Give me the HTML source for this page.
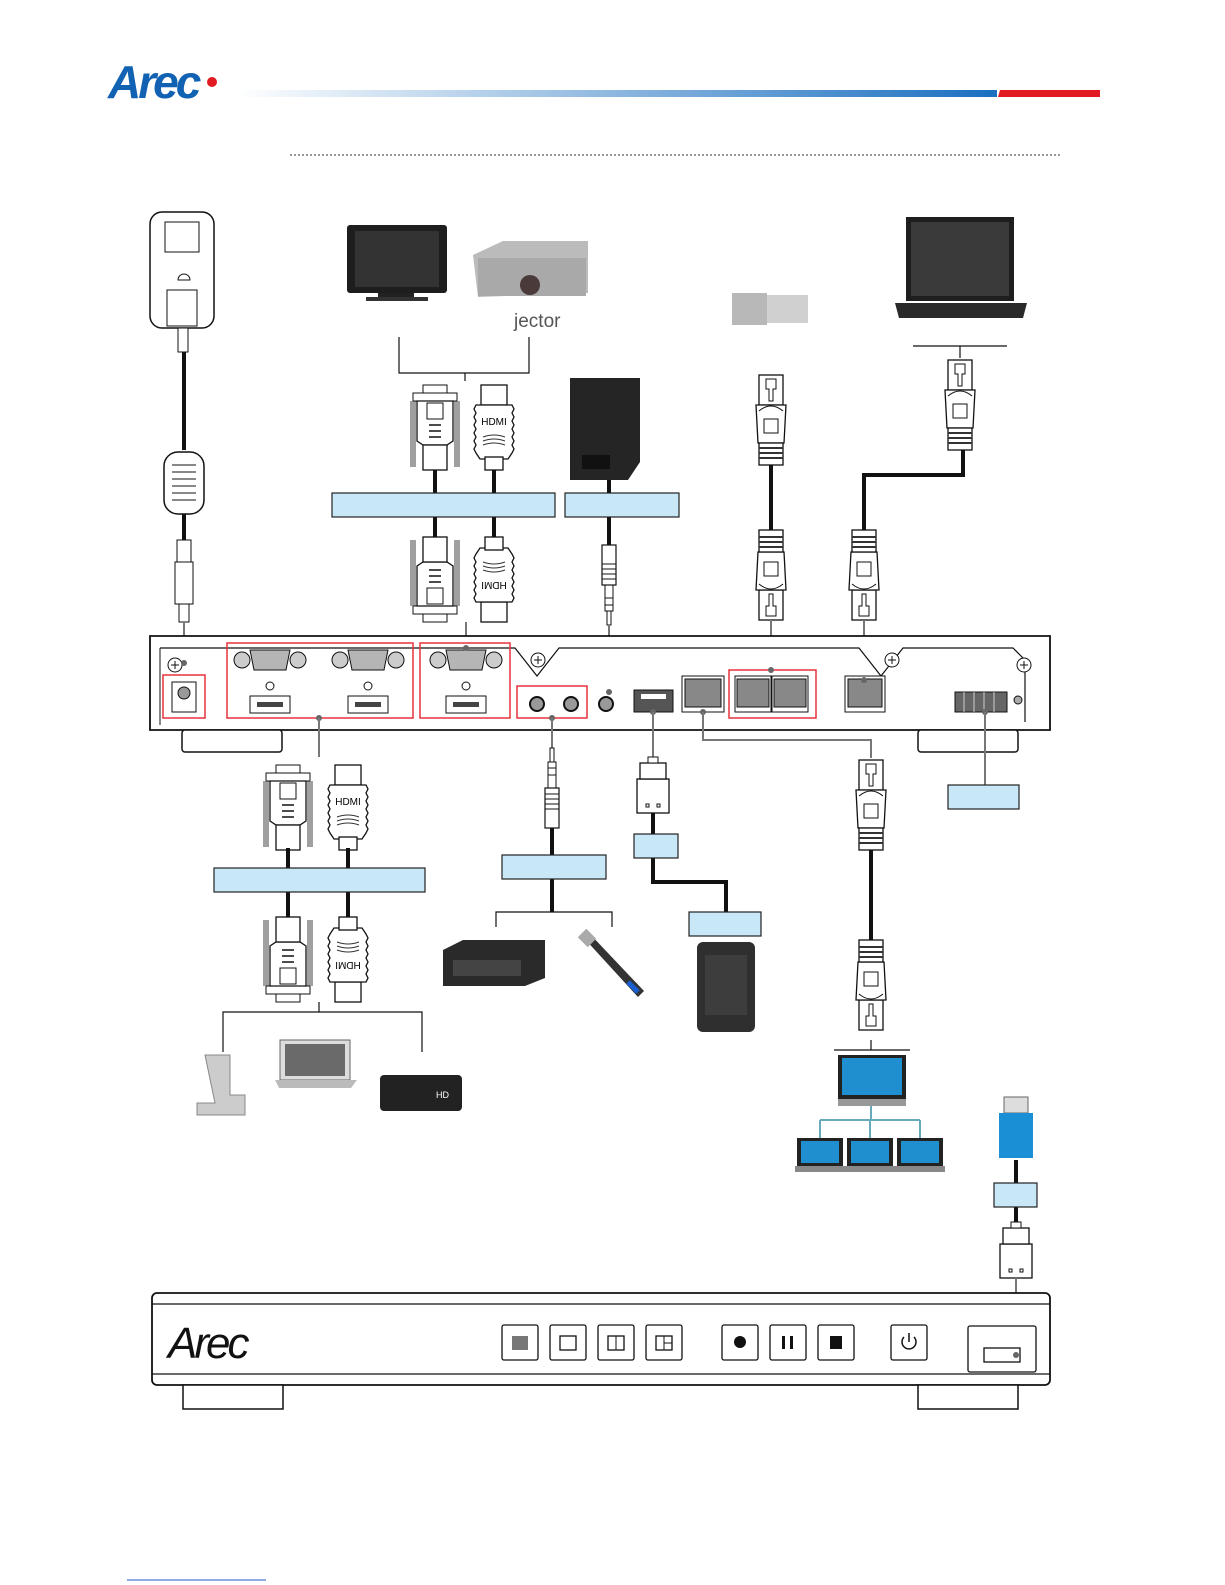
<!DOCTYPE html>
<html><head><meta charset="utf-8"><style>
html,body{margin:0;padding:0;background:#fff}
svg{display:block}
text{font-family:"Liberation Sans",sans-serif}
</style></head><body>
<svg width="1225" height="1585" viewBox="0 0 1225 1585" xmlns="http://www.w3.org/2000/svg">
<defs>
<linearGradient id="hg" x1="0" x2="1"><stop offset="0" stop-color="#fff"/><stop offset="1" stop-color="#1a6fc0"/></linearGradient>
<g id="rj">
 <rect x="-12" y="0" width="24" height="30" fill="#fff" stroke="#111" stroke-width="1.3"/>
 <path d="M-5 4h10v10h-3v12h-4v-12h-3z" fill="none" stroke="#111" stroke-width="1"/>
 <path d="M-15 30h30l-2 38h-26z" fill="#fff" stroke="#111" stroke-width="1.3"/>
 <rect x="-7" y="44" width="14" height="14" fill="none" stroke="#111"/>
 <path d="M-12 36q12-10 24 0" fill="none" stroke="#111"/>
 <rect x="-12" y="68" width="24" height="22" fill="#fff" stroke="#111" stroke-width="1.3"/>
 <path d="M-12 73h24M-12 78h24M-12 83h24" stroke="#333" stroke-width="2"/>
</g>
<g id="vga">
 <rect x="-12" y="0" width="24" height="8" fill="#fff" stroke="#111"/>
 <rect x="-22" y="8" width="44" height="8" fill="#fff" stroke="#111"/>
 <path d="M-18 16h36v40l-6 4h-24l-6-4z" fill="#fff" stroke="#111" stroke-width="1.3"/>
 <rect x="-8" y="18" width="16" height="16" fill="none" stroke="#111"/>
 <path d="M-6 40h12M-6 46h12M-6 52h12" stroke="#111" stroke-width="1.5"/>
 <path d="M-24 16v66M-20 16v66M20 16v66M24 16v66M-22 16v66M22 16v66" stroke="#111" stroke-width="0.8"/>
 <rect x="-12" y="60" width="24" height="25" fill="#fff" stroke="#111" stroke-width="1.3"/>
</g>
<g id="hd">
 <rect x="-13" y="0" width="26" height="20" fill="#fff" stroke="#111" stroke-width="1.3"/>
 <path d="M-18 20h36l2 4-2 4 2 4-2 4 2 4-2 4 2 4-2 4 2 4-2 4 2 4-2 4-4 6h-28l-4-6-2-4 2-4-2-4 2-4-2-4 2-4-2-4 2-4-2-4 2-4-2-4z" fill="#fff" stroke="#111" stroke-width="1.3"/>
 <path d="M-11 52q11-4 22 0M-11 56q11-4 22 0M-11 60q11-4 22 0" fill="none" stroke="#333"/>
 <rect x="-9" y="72" width="18" height="13" fill="#fff" stroke="#111" stroke-width="1.3"/>
</g>
<g id="usbp">
 <rect x="-16" y="0" width="32" height="34" fill="#fff" stroke="#111" stroke-width="1.3"/>
 <rect x="-7" y="6" width="3" height="3" fill="none" stroke="#111"/><rect x="4" y="6" width="3" height="3" fill="none" stroke="#111"/>
 <rect x="-13" y="34" width="26" height="16" fill="#fff" stroke="#111" stroke-width="1.3"/>
 <rect x="-5" y="50" width="10" height="6" fill="#fff" stroke="#111"/>
</g>
<g id="jack">
 <rect x="-2" y="0" width="4" height="14" fill="#fff" stroke="#111"/>
 <rect x="-4" y="14" width="8" height="26" fill="#fff" stroke="#111"/>
 <path d="M-4 20h8M-4 27h8" stroke="#111"/>
 <rect x="-7" y="40" width="14" height="40" fill="#fff" stroke="#111" stroke-width="1.2"/>
 <path d="M-7 46h14M-7 51h14M-7 56h14M-7 61h14" stroke="#111"/>
</g>
<g id="pc">
 <rect x="0" y="0" width="46" height="28" fill="#222"/><rect x="4" y="3" width="38" height="22" fill="#1f8fd0"/>
 <rect x="-2" y="28" width="50" height="6" fill="#888"/>
</g>
</defs>

<!-- header -->
<text x="108" y="98" font-size="46" font-style="italic" font-weight="bold" fill="#1262b3" letter-spacing="-3">Arec</text>
<circle cx="212" cy="82" r="5" fill="#e21b23"/>
<rect x="235" y="90" width="762" height="7" fill="url(#hg)"/>
<path d="M1000 90h100v7h-102z" fill="#e21b23"/>
<line x1="290" y1="155" x2="1060" y2="155" stroke="#333" stroke-dasharray="2 2"/>

<!-- power -->
<rect x="150" y="212" width="64" height="116" rx="12" fill="#fff" stroke="#111" stroke-width="1.5"/>
<rect x="165" y="222" width="34" height="30" fill="none" stroke="#111"/>
<rect x="167" y="290" width="30" height="36" fill="none" stroke="#111"/>
<path d="M178 280a6 6 0 0 1 12 0z" fill="none" stroke="#111"/>
<rect x="178" y="328" width="10" height="24" fill="#fff" stroke="#111"/>
<line x1="184" y1="352" x2="184" y2="450" stroke="#111" stroke-width="4"/>
<rect x="164" y="452" width="40" height="62" rx="14" fill="#fff" stroke="#111" stroke-width="1.5"/>
<path d="M172 465h24M172 472h24M172 479h24M172 486h24M172 493h24M172 500h24" stroke="#111"/>
<line x1="184" y1="514" x2="184" y2="540" stroke="#111" stroke-width="4"/>
<rect x="177" y="540" width="14" height="22" fill="#fff" stroke="#111"/>
<rect x="175" y="562" width="18" height="42" fill="#fff" stroke="#111"/>
<rect x="179" y="604" width="10" height="18" fill="#fff" stroke="#111"/>
<line x1="184" y1="622" x2="184" y2="663" stroke="#777" stroke-width="2"/>

<!-- display/projector -->
<rect x="347" y="225" width="100" height="68" rx="3" fill="#1e1e1e"/><rect x="355" y="231" width="84" height="56" fill="#333"/>
<rect x="378" y="293" width="36" height="5" fill="#222"/><rect x="366" y="297" width="62" height="4" fill="#333"/>
<path d="M473 255l30-14h85v52l-110 4z" fill="#bbb"/><rect x="478" y="258" width="108" height="38" fill="#a9a9a9"/>
<circle cx="530" cy="285" r="10" fill="#4a3a3a"/>
<text x="514" y="327" font-size="19" fill="#555">jector</text>
<path d="M399 337v36h130v-36M465 373v8" fill="none" stroke="#111" stroke-width="1.2"/>
<use href="#vga" x="435" y="385"/><use href="#hd" x="494" y="385"/>
<text x="494" y="425" font-size="10" text-anchor="middle">HDMI</text>
<path d="M435 470v23M494 470v23M435 517v22M494 517v22" stroke="#111" stroke-width="4"/>
<rect x="332" y="493" width="223" height="24" fill="#c8e8f8" stroke="#222" stroke-width="1.2"/>
<use href="#vga" transform="translate(435 622) rotate(180)"/><use href="#hd" transform="translate(494 622) rotate(180)"/>
<text transform="translate(494 582) rotate(180)" font-size="10" text-anchor="middle">HDMI</text>
<line x1="466" y1="622" x2="466" y2="648" stroke="#777" stroke-width="2"/>

<!-- speaker -->
<path d="M570 378h70v84l-12 18h-58z" fill="#252525"/><rect x="582" y="455" width="28" height="14" fill="#111"/>
<path d="M609 480v13M609 517v30" stroke="#111" stroke-width="4"/>
<rect x="565" y="493" width="114" height="24" fill="#c8e8f8" stroke="#222" stroke-width="1.2"/>
<use href="#jack" transform="translate(609 625) rotate(180)"/>
<line x1="609" y1="625" x2="609" y2="692" stroke="#777" stroke-width="2"/>

<!-- camera / laptop -->
<path d="M732 295h76v28h-76z" fill="#d0d0d0"/><rect x="732" y="293" width="35" height="32" fill="#b8b8b8"/>
<path d="M906 217h108v84h-108z" fill="#1e1e1e"/><path d="M911 222h98v74h-98z" fill="#3a3a3a"/>
<path d="M895 303h132l-4 15h-124z" fill="#2a2a2a"/>
<use href="#rj" x="771" y="375"/>
<line x1="771" y1="465" x2="771" y2="530" stroke="#111" stroke-width="4"/>
<use href="#rj" transform="translate(771 620) scale(1 -1)"/>
<line x1="771" y1="620" x2="771" y2="670" stroke="#777" stroke-width="2"/>
<path d="M913 346h94M960 346v12" stroke="#111" stroke-width="1.2" fill="none"/>
<use href="#rj" x="960" y="360"/>
<path d="M963 450v25h-99v55" fill="none" stroke="#111" stroke-width="4"/>
<use href="#rj" transform="translate(864 620) scale(1 -1)"/>
<line x1="864" y1="620" x2="864" y2="680" stroke="#777" stroke-width="2"/>

<!-- rear panel -->
<path d="M150 636h900v94h-900z" fill="#fff" stroke="#111" stroke-width="1.8"/>
<path d="M160 648h355l22 28l22-28h300l22 28l22-28h110l12 12v62" fill="none" stroke="#111" stroke-width="1.2"/>
<line x1="160" y1="648" x2="160" y2="725" stroke="#111"/>
<rect x="182" y="730" width="100" height="22" rx="3" fill="#fff" stroke="#111" stroke-width="1.5"/>
<rect x="918" y="730" width="100" height="22" rx="3" fill="#fff" stroke="#111" stroke-width="1.5"/>
<g fill="#fff" stroke="#111"><circle cx="175" cy="665" r="7"/><circle cx="538" cy="660" r="7"/><circle cx="892" cy="660" r="7"/><circle cx="1024" cy="665" r="7"/></g>
<g stroke="#111"><path d="M171 665h8M175 661v8M534 660h8M538 656v8M888 660h8M892 656v8M1020 665h8M1024 661v8"/></g>
<rect x="172" y="682" width="24" height="30" fill="#fff" stroke="#111"/><circle cx="184" cy="693" r="6" fill="#999" stroke="#111"/>
<g>
<g transform="translate(270 660)"><circle cx="-28" cy="0" r="8" fill="#ccc" stroke="#111"/><circle cx="28" cy="0" r="8" fill="#ccc" stroke="#111"/><path d="M-20-10h40l-4 20h-32z" fill="#b5b5b5" stroke="#111"/><circle cx="0" cy="26" r="4" fill="#fff" stroke="#111"/><rect x="-20" y="36" width="40" height="17" fill="#fff" stroke="#111"/><rect x="-13" y="42" width="26" height="5" fill="#444"/></g>
<g transform="translate(368 660)"><circle cx="-28" cy="0" r="8" fill="#ccc" stroke="#111"/><circle cx="28" cy="0" r="8" fill="#ccc" stroke="#111"/><path d="M-20-10h40l-4 20h-32z" fill="#b5b5b5" stroke="#111"/><circle cx="0" cy="26" r="4" fill="#fff" stroke="#111"/><rect x="-20" y="36" width="40" height="17" fill="#fff" stroke="#111"/><rect x="-13" y="42" width="26" height="5" fill="#444"/></g>
<g transform="translate(466 660)"><circle cx="-28" cy="0" r="8" fill="#ccc" stroke="#111"/><circle cx="28" cy="0" r="8" fill="#ccc" stroke="#111"/><path d="M-20-10h40l-4 20h-32z" fill="#b5b5b5" stroke="#111"/><circle cx="0" cy="26" r="4" fill="#fff" stroke="#111"/><rect x="-20" y="36" width="40" height="17" fill="#fff" stroke="#111"/><rect x="-13" y="42" width="26" height="5" fill="#444"/></g>
</g>
<g fill="#999" stroke="#111" stroke-width="2"><circle cx="537" cy="704" r="7"/><circle cx="571" cy="704" r="7"/><circle cx="606" cy="704" r="7"/></g>
<rect x="634" y="690" width="39" height="22" fill="#555" stroke="#111"/><rect x="641" y="694" width="25" height="5" fill="#fff"/>
<g fill="#888" stroke="#111"><rect x="682" y="676" width="42" height="36" fill="#fff"/><rect x="685" y="679" width="36" height="28"/>
<rect x="735" y="676" width="36" height="36" fill="#fff"/><rect x="737" y="679" width="32" height="28"/>
<rect x="772" y="676" width="36" height="36" fill="#fff"/><rect x="774" y="679" width="32" height="28"/>
<rect x="845" y="676" width="40" height="36" fill="#fff"/><rect x="848" y="679" width="34" height="28"/></g>
<rect x="955" y="692" width="52" height="20" fill="#666" stroke="#111"/>
<path d="M964 692v20M974 692v20M984 692v20M994 692v20" stroke="#ccc"/>
<circle cx="1018" cy="700" r="4" fill="#aaa" stroke="#111"/>
<g fill="none" stroke="#e8323c" stroke-width="1.5"><rect x="163" y="675" width="42" height="43"/><rect x="227" y="643" width="186" height="75"/><rect x="420" y="643" width="90" height="75"/><rect x="517" y="686" width="70" height="32"/><rect x="729" y="670" width="87" height="48"/></g>
<g fill="#666"><circle cx="184" cy="663" r="3"/><circle cx="466" cy="648" r="3"/><circle cx="609" cy="692" r="3"/><circle cx="771" cy="670" r="3"/><circle cx="864" cy="680" r="3"/><circle cx="319" cy="718" r="3"/><circle cx="552" cy="718" r="3"/><circle cx="653" cy="712" r="3"/><circle cx="703" cy="712" r="3"/><circle cx="985" cy="712" r="3"/></g>

<!-- lower left -->
<line x1="319" y1="718" x2="319" y2="757" stroke="#777" stroke-width="2"/>
<use href="#vga" x="288" y="765"/><use href="#hd" x="348" y="765"/>
<text x="348" y="805" font-size="10" text-anchor="middle">HDMI</text>
<path d="M288 848v20M348 848v20M288 892v26M348 892v26" stroke="#111" stroke-width="4"/>
<rect x="214" y="868" width="211" height="24" fill="#c8e8f8" stroke="#222" stroke-width="1.2"/>
<use href="#vga" transform="translate(288 1002) rotate(180)"/><use href="#hd" transform="translate(348 1002) rotate(180)"/>
<text transform="translate(348 962) rotate(180)" font-size="10" text-anchor="middle">HDMI</text>
<path d="M223 1052v-40h199v40M319 1002v10" fill="none" stroke="#111" stroke-width="1.2"/>
<path d="M205 1055h25v40h15v20h-48v-12h18z" fill="#ccc" stroke="#888"/>
<path d="M280 1040h70v40h-70z" fill="#ddd" stroke="#666"/><rect x="285" y="1044" width="60" height="32" fill="#6a6a6a"/><path d="M275 1080h82l-6 8h-72z" fill="#bbb"/>
<rect x="380" y="1075" width="82" height="36" rx="4" fill="#222"/><text x="436" y="1098" font-size="9" fill="#fff">HD</text>

<!-- audio -->
<line x1="552" y1="718" x2="552" y2="750" stroke="#777" stroke-width="2"/>
<use href="#jack" x="552" y="748"/>
<path d="M552 828v27M552 879v33" stroke="#111" stroke-width="4"/>
<rect x="502" y="855" width="104" height="24" fill="#c8e8f8" stroke="#222" stroke-width="1.2"/>
<path d="M496 927v-15h116v15" fill="none" stroke="#111" stroke-width="1.2"/>
<path d="M443 950l20-10h82v38l-20 8h-82z" fill="#2a2a2a"/><rect x="453" y="960" width="68" height="16" fill="#444"/>
<path d="M583 937l6-4 55 58-6 6z" fill="#333"/><rect x="580" y="932" width="14" height="12" fill="#aaa" transform="rotate(45 587 938)"/><path d="M628 982l10 10" stroke="#1a5fd0" stroke-width="5"/>

<!-- usb -->
<line x1="653" y1="712" x2="653" y2="757" stroke="#777" stroke-width="2"/>
<use href="#usbp" transform="translate(653 813) scale(1 -1)"/>
<path d="M653 813v21M653 858v24h73v30" fill="none" stroke="#111" stroke-width="4"/>
<rect x="634" y="834" width="44" height="24" fill="#c8e8f8" stroke="#222" stroke-width="1.2"/>
<rect x="689" y="912" width="72" height="24" fill="#c8e8f8" stroke="#222" stroke-width="1.2"/>
<rect x="697" y="942" width="58" height="90" rx="6" fill="#2f2f2f"/><rect x="705" y="955" width="42" height="60" fill="#3d3d3d"/>

<!-- LAN -->
<path d="M703 712v28h168v18" fill="none" stroke="#777" stroke-width="2"/>
<use href="#rj" x="871" y="760"/>
<line x1="871" y1="850" x2="871" y2="940" stroke="#111" stroke-width="4"/>
<use href="#rj" transform="translate(871 1030) scale(1 -1)"/>
<path d="M834 1050h76M871 1040v10" stroke="#111" stroke-width="1.2"/>
<rect x="838" y="1055" width="68" height="44" fill="#222"/><rect x="842" y="1058" width="60" height="37" fill="#1f8fd0"/>
<rect x="838" y="1099" width="68" height="7" fill="#999"/>
<path d="M871 1106v14M820 1120h100M820 1120v18M870 1120v18M920 1120v18" stroke="#6ab" stroke-width="2" fill="none"/>
<use href="#pc" x="797" y="1138"/><use href="#pc" x="847" y="1138"/><use href="#pc" x="897" y="1138"/>

<!-- terminal -->
<line x1="985" y1="712" x2="985" y2="785" stroke="#777" stroke-width="2"/>
<rect x="948" y="785" width="71" height="24" fill="#c8e8f8" stroke="#222" stroke-width="1.2"/>

<!-- usb stick -->
<rect x="1004" y="1097" width="24" height="16" fill="#ddd" stroke="#666"/>
<path d="M999 1113h34v45h-34z" fill="#1a8fd6"/>
<path d="M1016 1160v23M1016 1207v15" stroke="#111" stroke-width="4"/>
<rect x="994" y="1183" width="43" height="24" fill="#c8e8f8" stroke="#222" stroke-width="1.2"/>
<use href="#usbp" transform="translate(1016 1278) scale(1 -1)"/>
<line x1="1016" y1="1278" x2="1016" y2="1355" stroke="#777" stroke-width="2"/>

<!-- front panel -->
<rect x="152" y="1293" width="898" height="92" rx="5" fill="#fff" stroke="#111" stroke-width="1.8"/>
<path d="M152 1304h898M152 1374h898" stroke="#111" stroke-width="1.3"/>
<rect x="183" y="1385" width="100" height="24" fill="#fff" stroke="#111" stroke-width="1.5"/>
<rect x="918" y="1385" width="100" height="24" fill="#fff" stroke="#111" stroke-width="1.5"/>
<text x="168" y="1358" font-size="44" font-style="italic" fill="#111" letter-spacing="-3">Arec</text>
<g fill="#fff" stroke="#111" stroke-width="1.3">
<rect x="502" y="1325" width="36" height="35" rx="2"/><rect x="550" y="1325" width="36" height="35" rx="2"/><rect x="598" y="1325" width="36" height="35" rx="2"/><rect x="646" y="1325" width="36" height="35" rx="2"/>
<rect x="722" y="1325" width="36" height="35" rx="2"/><rect x="770" y="1325" width="36" height="35" rx="2"/><rect x="818" y="1325" width="36" height="35" rx="2"/><rect x="891" y="1325" width="36" height="35" rx="2"/>
<rect x="968" y="1326" width="68" height="46" rx="2"/>
<rect x="560" y="1336" width="16" height="14"/><rect x="608" y="1336" width="16" height="14"/><rect x="656" y="1336" width="16" height="14"/>
<rect x="984" y="1348" width="36" height="14"/>
</g>
<rect x="512" y="1336" width="16" height="14" fill="#777"/>
<path d="M616 1336v14M664 1336v14M664 1343h8" stroke="#111"/>
<circle cx="740" cy="1342" r="6" fill="#111"/>
<rect x="782" y="1336" width="3" height="13" fill="#111"/><rect x="790" y="1336" width="3" height="13" fill="#111"/>
<rect x="830" y="1336" width="12" height="13" fill="#111"/>
<path d="M904 1337a7 7 0 1 0 10 0M909 1333v9" fill="none" stroke="#111" stroke-width="1.5"/>
<circle cx="1016" cy="1355" r="3" fill="#666"/>
<line x1="127" y1="1580" x2="266" y2="1580" stroke="#2255cc" stroke-width="1"/>
</svg>
</body></html>
